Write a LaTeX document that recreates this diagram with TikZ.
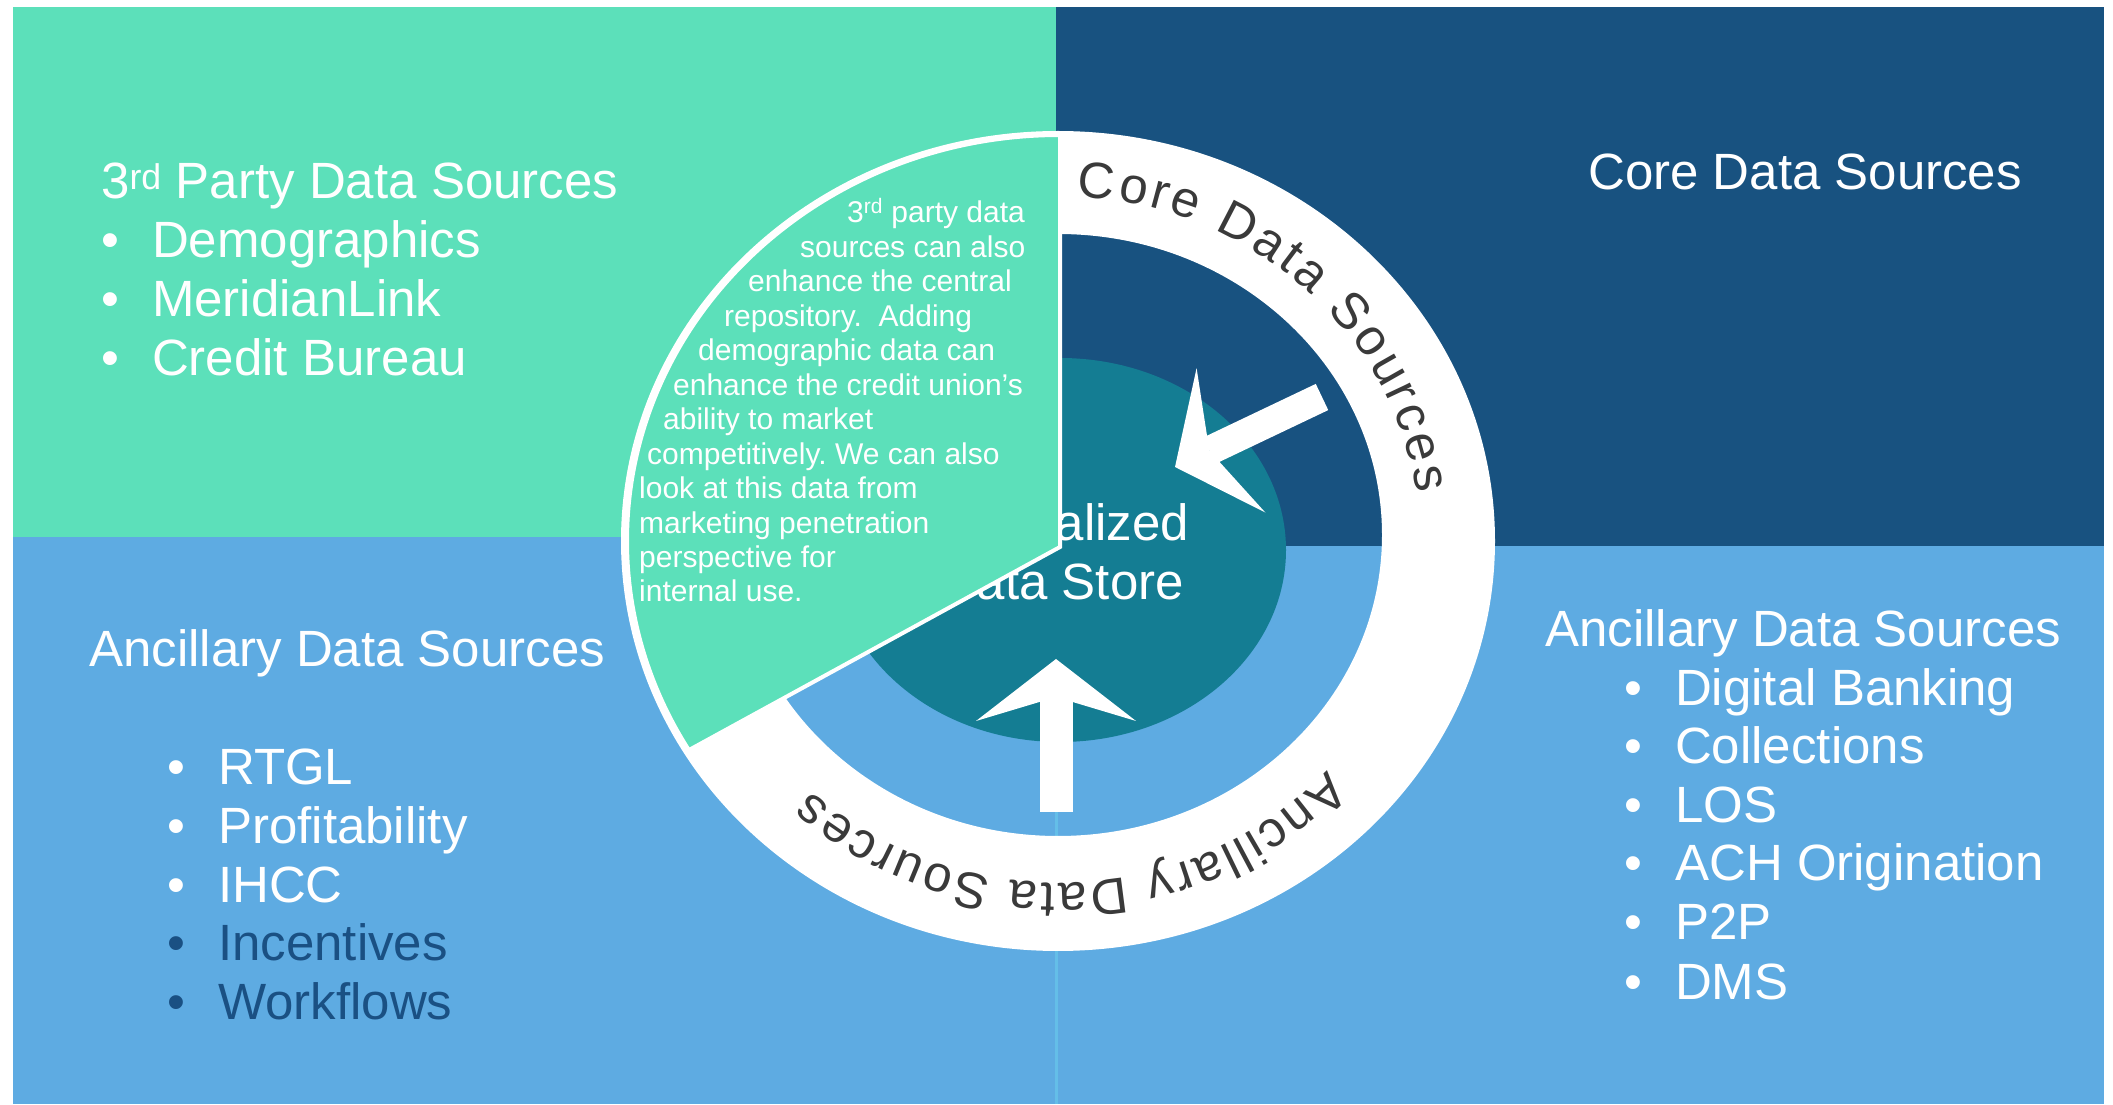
\documentclass[tikz,border=0pt]{standalone}
\usepackage{fontspec}
\setmainfont{Liberation Sans}
\usetikzlibrary{arrows.meta,decorations.text}
\definecolor{mint}{RGB}{92,224,186}
\definecolor{coreblue}{RGB}{24,82,128}
\definecolor{skyblue}{RGB}{94,171,226}
\definecolor{hubteal}{RGB}{20,125,147}
\definecolor{listblue}{RGB}{26,80,131}
\definecolor{ringgray}{RGB}{58,58,58}
\definecolor{seamblue}{RGB}{100,190,232}
\newcommand{\bigtxt}{\fontsize{51}{59}\selectfont}
\newcommand{\notetxt}{\fontsize{30}{34}\selectfont}
\newcommand{\bul}[1]{\makebox[51pt][l]{•}#1}
\tikzset{heading/.style={text=white,font=\bigtxt,inner sep=0pt,anchor=base west}}
\tikzset{note/.style={text=white,font=\notetxt,inner sep=0pt,anchor=base west}}
\tikzset{bigarrow/.style={white,-{Stealth[length=62pt,width=160pt,inset=24pt,line width=0pt]}}}
\frenchspacing

\begin{document}
\begin{tikzpicture}[x=1pt,y=1pt]
\useasboundingbox (0,0) rectangle (2113,1104);
% \draw[help lines,step=100] (0,0) grid (2113,1104);
\fill[skyblue] (13,0) rectangle (2104,567);
\fill[mint] (13,567) rectangle (1056,1097);
\fill[coreblue] (1056,558) rectangle (2104,1097);
\draw[seamblue,line width=3pt] (1056,0) -- (1056,563);
%
\coordinate (hubc) at (1058,563);
\fill[white,even odd rule] (hubc) ellipse [x radius=437,y radius=410]
  (1058,569) ellipse [x radius=324,y radius=301];
\fill[hubteal] (1060,554) ellipse [x radius=226,y radius=192];
\node (hub1) [heading,anchor=base] at (1060,563) {Centralized};
\node (hub2) [heading,anchor=base] at (1062,504) {Data Store};
%
\path[decorate,decoration={text along path,text={|\bigtxt|Core Data Sources},text color=ringgray,text align=fit to path}]
  ([shift={(87:362 and 345)}]hubc) arc [start angle=87,end angle=8,x radius=362,y radius=345];
\path[decorate,decoration={text along path,text={|\bigtxt|Ancillary Data Sources},text color=ringgray,text align=fit to path}]
  ([shift={(-42:362 and 342)}]hubc) arc [start angle=-42,end angle=-133,x radius=362,y radius=342];
%
\coordinate (coreTail) at (1322,707);
\coordinate (coreTip) at (1175,637);
\coordinate (ancTail) at (1056,292);
\coordinate (ancTip) at (1056,445);
\path[bigarrow,line width=29pt](coreTail) edge (coreTip);
\path[bigarrow,line width=33pt](ancTail) edge (ancTip);
%
\coordinate (wedgeV) at (1060,557);
\path[fill=mint,draw=white,line width=4pt] (wedgeV) -- (1060,969)
  arc [start angle=90,end angle=211,x radius=433,y radius=406] -- cycle;
\node (n1) [note] at (847,881) {3\textsuperscript{rd} party data};
\node (n2) [note] at (800,846.5) {sources can also};
\node (n3) [note] at (748,812) {enhance the central};
\node (n4) [note] at (724,777.6) {repository.~ Adding};
\node (n5) [note] at (698,743.2) {demographic data can};
\node (n6) [note] at (673,708.7) {enhance the credit union’s};
\node (n7) [note] at (663,674.3) {ability to market};
\node (n8) [note] at (647,639.8) {competitively. We can also};
\node (n9) [note] at (639,605.4) {look at this data from};
\node (n10) [note] at (639,570.9) {marketing penetration};
\node (n11) [note] at (639,536.5) {perspective for};
\node (n12) [note] at (639,502) {internal use.};
%
\node (tp) [heading] at (101,905) {3\textsuperscript{rd} Party Data Sources};
\node (tp1) [heading] at (101,846) {\bul{Demographics}};
\node (tp2) [heading] at (101,787) {\bul{MeridianLink}};
\node (tp3) [heading] at (101,728) {\bul{Credit Bureau}};
%
\node (core) [heading] at (1588,914) {Core Data Sources};
%
\node (al) [heading] at (89,437) {Ancillary Data Sources};
\node (al1) [heading] at (167,319) {\bul{RTGL}};
\node (al2) [heading] at (167,260) {\bul{Profitability}};
\node (al3) [heading] at (167,202) {\bul{IHCC}};
\node (al4) [heading,text=listblue] at (167,144) {\bul{Incentives}};
\node (al5) [heading,text=listblue] at (167,85) {\bul{Workflows}};
%
\node (ar) [heading] at (1545,457) {Ancillary Data Sources};
\node (ar1) [heading] at (1624,398) {\bul{Digital Banking}};
\node (ar2) [heading] at (1624,340) {\bul{Collections}};
\node (ar3) [heading] at (1624,281) {\bul{LOS}};
\node (ar4) [heading] at (1624,223) {\bul{ACH Origination}};
\node (ar5) [heading] at (1624,165) {\bul{P2P}};
\node (ar6) [heading] at (1624,105) {\bul{DMS}};
\end{tikzpicture}
\end{document}
